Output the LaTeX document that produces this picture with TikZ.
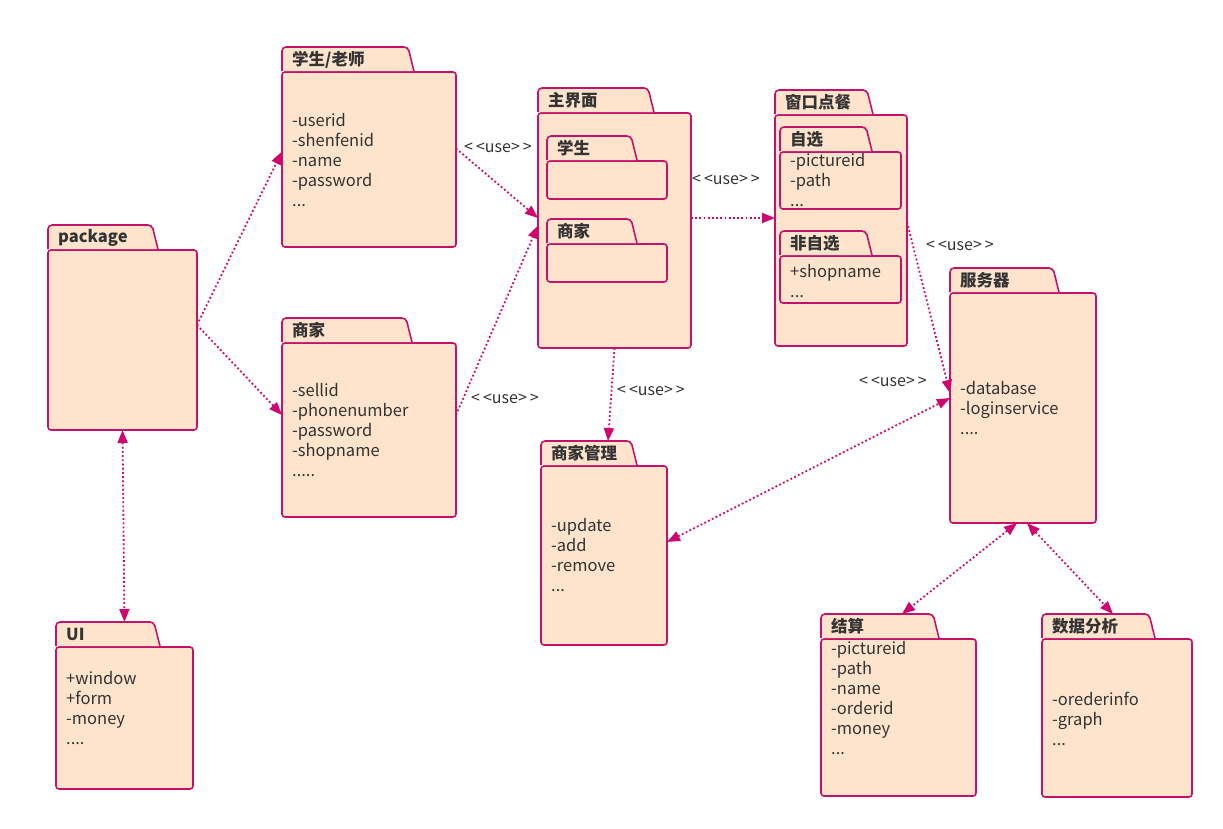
\documentclass[tikz,border=0pt]{standalone}
\usepackage{fontspec}
\setmainfont{Noto Sans CJK SC}
\usetikzlibrary{arrows.meta, positioning}

\definecolor{pkgfill}{RGB}{254,228,204}
\definecolor{pkgline}{RGB}{196,18,106}
\definecolor{arrowpink}{RGB}{208,6,112}
\definecolor{txtgray}{RGB}{51,51,51}

% tab of a package: node, tab width, title
\newcommand{\pkgtab}[3]{%
  \filldraw[tabline] ([yshift=0.8pt]#1.north west) -- ([yshift=25pt]#1.north west)
    -- ([xshift=#2-6pt, yshift=25pt]#1.north west) -- ([xshift=#2, yshift=0.8pt]#1.north west);
  \node[tabtitle, anchor=west] (#1-title) at ([xshift=10pt, yshift=12.5pt]#1.north west) {#3};
}

\begin{document}
\begin{tikzpicture}[
    x=1pt, y=-1pt,
    pkg/.style={draw=pkgline, line width=1.6pt, fill=pkgfill, rounded corners=3pt,
        inner sep=0pt, outer sep=0pt, anchor=north west},
    tabline/.style={draw=pkgline, line width=1.6pt, fill=pkgfill, rounded corners=4pt},
    tabtitle/.style={font=\fontsize{16.5}{18}\selectfont\bfseries, text=txtgray, inner sep=0pt},
    members/.style={font=\fontsize{16.5}{20}\selectfont, text=txtgray, align=left,
        anchor=north west, inner sep=0pt},
    uselbl/.style={font=\fontsize{16}{18}\selectfont, text=txtgray, inner sep=0pt},
    use/.style={-{Triangle[length=13pt, width=10pt]}, arrowpink, line width=1.8pt,
        dash pattern=on 1.8pt off 2.4pt},
    biuse/.style={use, {Triangle[length=13pt, width=10pt]}-{Triangle[length=13pt, width=10pt]}}
]
\useasboundingbox (0,0) rectangle (1223,829);

% ===== Left column =====
\node[pkg, minimum width=149pt, minimum height=180pt] (package) at (48,250) {};
\pkgtab{package}{110pt}{package}

\node[pkg, minimum width=137pt, minimum height=142pt] (ui) at (56,647) {};
\pkgtab{ui}{104pt}{UI}
\node[members] (ui-text) at (66,671.5) {+window\\+form\\-money\\....};

% ===== Users =====
\node[pkg, minimum width=174pt, minimum height=175pt] (stu) at (282,72) {};
\pkgtab{stu}{132pt}{学生/老师}
\node[members] (stu-text) at (292,113.5) {-userid\\-shenfenid\\-name\\-password\\...};

\node[pkg, minimum width=174pt, minimum height=174pt] (shop) at (282,343) {};
\pkgtab{shop}{130pt}{商家}
\node[members] (shop-text) at (292,383.5) {-sellid\\-phonenumber\\-password\\-shopname\\.....};

% ===== Main window =====
\node[pkg, minimum width=153pt, minimum height=235pt] (main) at (538,113) {};
\pkgtab{main}{116pt}{主界面}

\node[pkg, minimum width=120pt, minimum height=38pt] (main-stu) at (547,161) {};
\pkgtab{main-stu}{90pt}{学生}

\node[pkg, minimum width=120pt, minimum height=38pt] (main-shop) at (547,244) {};
\pkgtab{main-shop}{90pt}{商家}

% ===== Ordering =====
\node[pkg, minimum width=132pt, minimum height=231pt] (order) at (775,115) {};
\pkgtab{order}{98pt}{窗口点餐}

\node[pkg, minimum width=121pt, minimum height=57pt] (pick) at (780,152) {};
\pkgtab{pick}{92pt}{自选}
\node[members] (pick-text) at (790,153.5) {-pictureid\\-path\\...};

\node[pkg, minimum width=121pt, minimum height=47pt] (nopick) at (780,256) {};
\pkgtab{nopick}{92pt}{非自选}
\node[members] (nopick-text) at (790,264.5) {+shopname\\...};

% ===== Shop management =====
\node[pkg, minimum width=126pt, minimum height=179pt] (manage) at (541,466) {};
\pkgtab{manage}{96pt}{商家管理}
\node[members] (manage-text) at (551,518.5) {-update\\-add\\-remove\\...};

% ===== Server =====
\node[pkg, minimum width=146pt, minimum height=230pt] (server) at (950,293) {};
\pkgtab{server}{109pt}{服务器}
\node[members] (server-text) at (960,381.5) {-database\\-loginservice\\....};

\node[pkg, minimum width=155pt, minimum height=157pt] (pay) at (821,639) {};
\pkgtab{pay}{118pt}{结算}
\node[members] (pay-text) at (831,641.5) {-pictureid\\-path\\-name\\-orderid\\-money\\...};

\node[pkg, minimum width=150pt, minimum height=158pt] (stat) at (1042,639) {};
\pkgtab{stat}{113pt}{数据分析}
\node[members] (stat-text) at (1052,691.5) {-orederinfo\\-graph\\...};

% ===== Dependencies =====
\draw[use] ([yshift=15pt]package.east) -- ([yshift=8pt]stu.west);
\draw[use] ([yshift=15pt]package.east) -- ([yshift=15pt]shop.west);
\draw[biuse] (package.south) -- ([yshift=25pt]ui.north);

\draw[use] ([yshift=11pt]stu.east) -- ([yshift=12.5pt]main.west);
\node[uselbl] (use-stu) at (498,148) {<\hspace{3pt}<use>\hspace{3pt}>};

\draw[use] ([yshift=15pt]shop.east) -- ([yshift=5pt]main.west);
\node[uselbl] (use-shop) at (505,399) {<\hspace{3pt}<use>\hspace{3pt}>};

\draw[use] ([yshift=12.5pt]main.east) -- ([yshift=12.5pt]order.west);
\node[uselbl] (use-main) at (726,180) {<\hspace{3pt}<use>\hspace{3pt}>};

\draw[use] (main.south) -- ([xshift=4pt, yshift=25pt]manage.north);
\node[uselbl] (use-manage) at (651,391) {<\hspace{3pt}<use>\hspace{3pt}>};

\draw[use] ([yshift=8.5pt]order.east) -- ([yshift=15pt]server.west);
\node[uselbl] (use-order) at (960,246) {<\hspace{3pt}<use>\hspace{3pt}>};

\draw[biuse] ([yshift=13.5pt]manage.east) -- ([yshift=10pt]server.west);
\node[uselbl] (use-server) at (893,382) {<\hspace{3pt}<use>\hspace{3pt}>};

\draw[biuse] ([xshift=-6pt]server.south) -- ([xshift=3.5pt, yshift=25pt]pay.north);
\draw[biuse] ([xshift=4pt]server.south) -- ([xshift=-4pt, yshift=25pt]stat.north);

\end{tikzpicture}
\end{document}
